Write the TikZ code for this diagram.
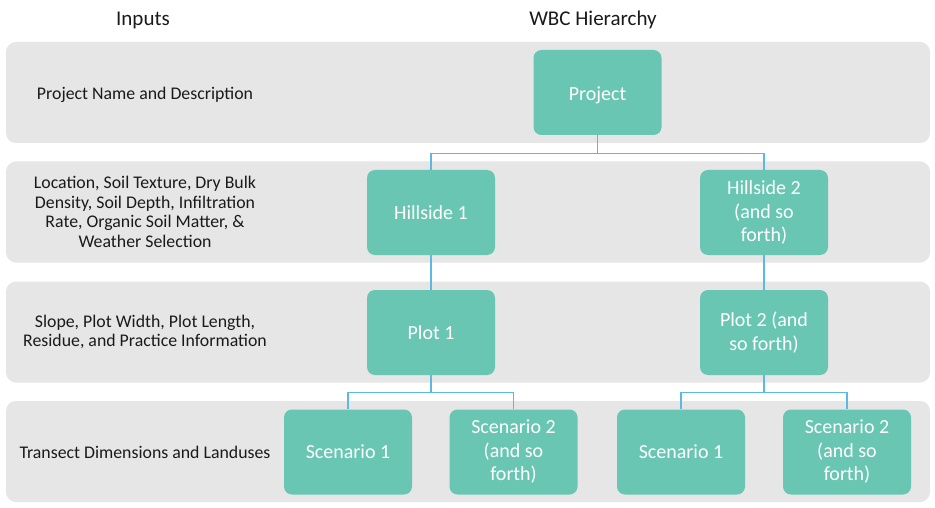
\documentclass[tikz,border=0pt]{standalone}
\usepackage{fontspec}
\setmainfont{Carlito}
\definecolor{teal1}{HTML}{68C6B3}
\definecolor{band}{HTML}{E6E6E6}
\definecolor{link}{HTML}{5BB9E6}
\definecolor{txt}{HTML}{1A1A1A}
\begin{document}
\begin{tikzpicture}[x=1pt,y=-1pt,
  bandbox/.style={fill=band, draw=none, rounded corners=10pt, minimum width=924pt, minimum height=101pt, inner sep=0pt},
  wbc/.style={fill=teal1, draw=none, rounded corners=8pt, minimum width=128pt, minimum height=85pt, inner sep=0pt, text=white, align=center, font=\fontsize{20}{23.5}\selectfont},
  inlabel/.style={text=txt, align=center, font=\fontsize{17.8}{19.5}\selectfont},
  head/.style={text=txt, font=\fontsize{21}{24}\selectfont},
  conn/.style={draw=link, line width=1.1pt}]
\useasboundingbox (0,0) rectangle (935,508);
\fill[white] (0,0) rectangle (935,508);
\node[bandbox] (b1) at (468,92.5) {};
\node[bandbox] (b2) at (468,212) {};
\node[bandbox] (b3) at (468,332) {};
\node[bandbox] (b4) at (468,451.5) {};
\node[head] (tin) at (143,20) {Inputs};
\node[head] (twbc) at (593,20) {WBC Hierarchy};
\node[inlabel] (l1) at (145,95) {Project Name and Description};
\node[inlabel] (l2) at (145,212) {Location, Soil Texture, Dry Bulk\\Density, Soil Depth, Infiltration\\Rate, Organic Soil Matter, \&\\Weather Selection};
\node[inlabel] (l3) at (145,332) {Slope, Plot Width, Plot Length,\\Residue, and Practice Information};
\node[inlabel] (l4) at (145,452) {Transect Dimensions and Landuses};
\node[wbc] (proj) at (597.5,92.5) {\raisebox{-2.5pt}[\height][\depth]{Project}};
\node[wbc] (h1) at (431,212.5) {Hillside 1};
\node[wbc] (h2) at (764,212.5) {Hillside 2\\(and so\\forth)};
\node[wbc] (p1) at (431,332.5) {Plot 1};
\node[wbc] (p2) at (764,332.5) {Plot 2 (and\\so forth)};
\node[wbc] (s1) at (348,452) {Scenario 1};
\node[wbc] (s2) at (513.5,452) {Scenario 2\\(and so\\forth)};
\node[wbc] (s3) at (681,452) {Scenario 1};
\node[wbc] (s4) at (847,452) {Scenario 2\\(and so\\forth)};
\coordinate (busA) at ([yshift=-18pt]proj.south);
\coordinate (busB) at ([yshift=-17pt]p1.south);
\coordinate (busC) at ([yshift=-17pt]p2.south);
\draw[conn] (proj.south) -- (busA) -| (h1.north);
\draw[conn] (busA) -| (h2.north);
\draw[conn] (h1.south) -- (p1.north);
\draw[conn] (h2.south) -- (p2.north);
\draw[conn] (p1.south) -- (busB) -| (s1.north);
\draw[conn] (busB) -| (s2.north);
\draw[conn] (p2.south) -- (busC) -| (s3.north);
\draw[conn] (busC) -| (s4.north);
\end{tikzpicture}
\end{document}
